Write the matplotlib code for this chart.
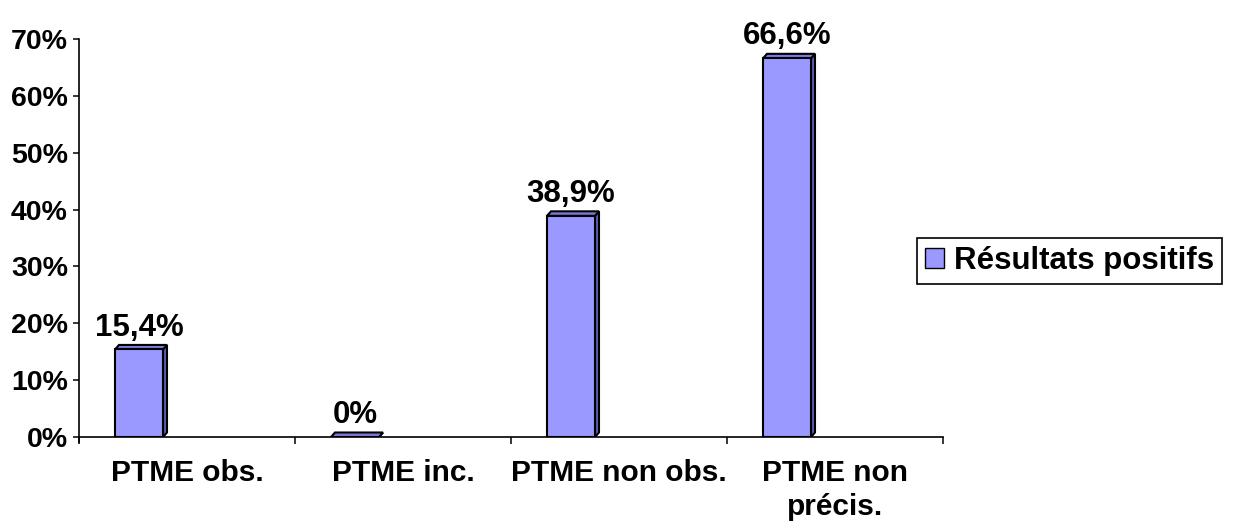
import numpy as np
import matplotlib
matplotlib.use("Agg")
import matplotlib.pyplot as plt
from matplotlib.patches import Polygon, Patch

categories = ["PTME obs.", "PTME inc.", "PTME non obs.", "PTME non\nprécis."]
values = [15.4, 0.0, 38.9, 66.6]
value_labels = ["15,4%", "0%", "38,9%", "66,6%"]
series_name = "Résultats positifs"
yticks = [0, 10, 20, 30, 40, 50, 60, 70]

plt.rcParams['font.family'] = ['Liberation Sans', 'DejaVu Sans']
plt.rcParams['font.weight'] = 'bold'

FRONT = "#9999FF"
TOP = "#7B7BDB"
SIDE = "#5E5EB8"

fig = plt.figure(figsize=(12.38, 5.22), dpi=100)
ax = fig.add_axes([79 / 1238, 85 / 522, 864 / 1238, 398 / 522])

x = np.arange(len(categories))
bar_w = 48 / 216
bar_off = -0.5 + 36 / 216
# depth of the fake 3d faces, in data units
dx = 4 / 216
dy = 4.5 * 70 / 398

for xi, v in zip(x, values):
    x0 = xi + bar_off
    x1 = x0 + bar_w
    ax.add_patch(Polygon([(x1, 0), (x1 + dx, dy), (x1 + dx, v + dy), (x1, v)],
                         closed=True, facecolor=SIDE, edgecolor="black", lw=1.5, zorder=2))
    ax.add_patch(Polygon([(x0, v), (x0 + dx, v + dy), (x1 + dx, v + dy), (x1, v)],
                         closed=True, facecolor=TOP, edgecolor="black", lw=1.5, zorder=2))
    if v > 0:
        ax.add_patch(Polygon([(x0, 0), (x0, v), (x1, v), (x1, 0)],
                             closed=True, facecolor=FRONT, edgecolor="black", lw=1.5, zorder=3))

for xi, v, lab in zip(x, values, value_labels):
    ax.annotate(lab, xy=(xi + bar_off + bar_w / 2, v), xytext=(0, 10),
                textcoords="offset points", ha="center", va="baseline",
                fontsize=22.5, fontweight="bold", zorder=4)

ax.set_xlim(-0.5, len(categories) - 0.5)
ax.set_ylim(0, 70)

ax.set_yticks(yticks)
ax.set_yticklabels([f"{t}%" for t in yticks], fontsize=20.5, fontweight="bold")
ax.tick_params(axis="y", length=4, width=1.1, pad=4)

ax.set_xticks(x)
ax.set_xticklabels(categories, fontsize=21.5, fontweight="bold", linespacing=1.25)
ax.set_xticks(np.arange(-0.5, len(categories)), minor=True)
ax.tick_params(axis="x", which="major", length=0, pad=16)
ax.tick_params(axis="x", which="minor", length=5, width=1.1)

for s in ["top", "right"]:
    ax.spines[s].set_visible(False)
for s in ["left", "bottom"]:
    ax.spines[s].set_linewidth(1.2)
ax.spines["left"].set_bounds(-5 * 70 / 398, 70)
ax.set_clip_on(False)

handle = Patch(facecolor=FRONT, edgecolor="black", linewidth=1.0)
leg = fig.legend([handle], [series_name], loc="center left",
                 bbox_to_anchor=(917 / 1238, 1 - 261 / 522), borderaxespad=0,
                 prop={"size": 22.5, "weight": "bold"}, fancybox=False, shadow=False,
                 handlelength=0.6, handleheight=0.6, handletextpad=0.35,
                 borderpad=0.25, framealpha=1, edgecolor="black")
leg.get_frame().set_linewidth(1.2)

fig.savefig("out.png", dpi=100)
